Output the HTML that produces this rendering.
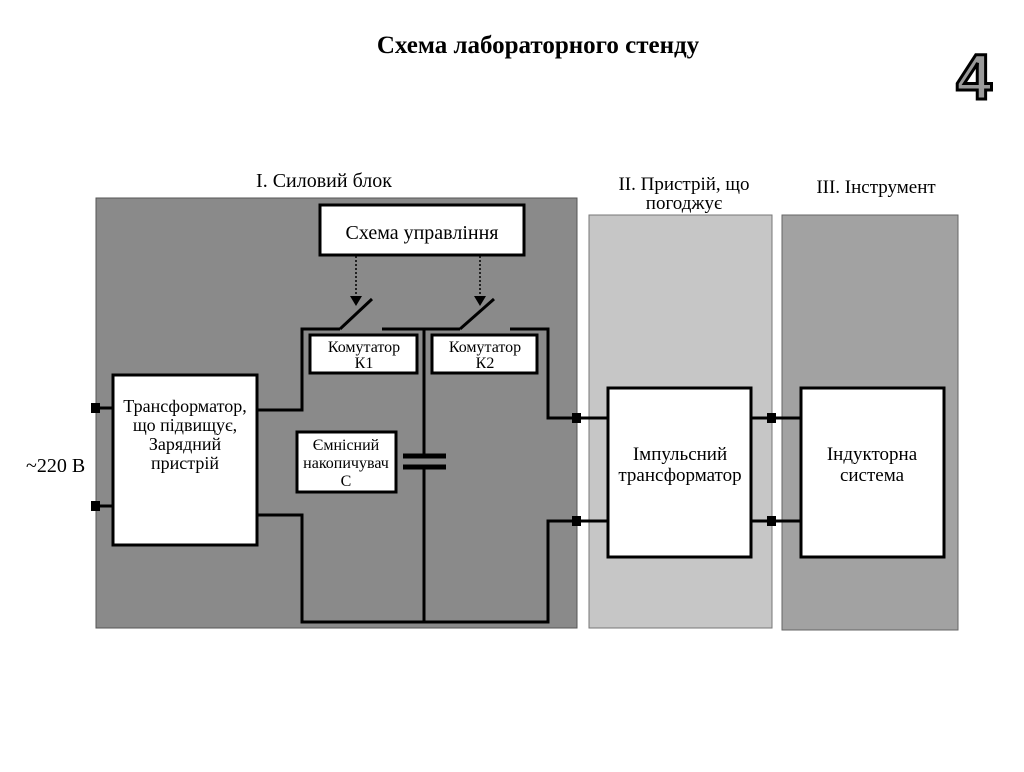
<!DOCTYPE html>
<html><head><meta charset="utf-8"><style>
body{margin:0;background:#fff;}
svg text{font-family:"Liberation Serif",serif;fill:#000;}
</style></head><body>
<svg width="1024" height="767" viewBox="0 0 1024 767" xmlns="http://www.w3.org/2000/svg">
<rect width="1024" height="767" fill="#fff"/>
<text x="538" y="53" font-size="25" font-weight="bold" text-anchor="middle">Схема лабораторного стенду</text>
<text x="974" y="99" font-size="64" font-weight="bold" text-anchor="middle" style="font-family:'Liberation Sans',sans-serif;fill:#9a9a9a;stroke:#000;stroke-width:3">4</text>

<text x="324" y="187" font-size="20" text-anchor="middle">I. Силовий блок</text>
<text x="684" y="190" font-size="19" text-anchor="middle">II. Пристрій, що</text>
<text x="684" y="209" font-size="19" text-anchor="middle">погоджує</text>
<text x="876" y="193" font-size="19" text-anchor="middle">III. Інструмент</text>

<rect x="96" y="198" width="481" height="430" fill="#8a8a8a" stroke="#555" stroke-width="1"/>
<rect x="589" y="215" width="183" height="413" fill="#c6c6c6" stroke="#777" stroke-width="1"/>
<rect x="782" y="215" width="176" height="415" fill="#a2a2a2" stroke="#666" stroke-width="1"/>

<g stroke="#000" stroke-width="3" fill="none">
<polyline points="257,410 302,410 302,329 340,329"/>
<line x1="340" y1="329" x2="372" y2="299"/>
<line x1="382" y1="329" x2="460" y2="329"/>
<line x1="460" y1="329" x2="494" y2="299"/>
<polyline points="510,329 548,329 548,418 577,418"/>
<line x1="424" y1="329" x2="424" y2="456"/>
<line x1="424" y1="467" x2="424" y2="622"/>
<polyline points="257,515 302,515 302,622 548,622 548,521 577,521"/>
<line x1="577" y1="418" x2="608" y2="418"/>
<line x1="577" y1="521" x2="608" y2="521"/>
<line x1="751" y1="418" x2="801" y2="418"/>
<line x1="751" y1="521" x2="801" y2="521"/>
<line x1="92" y1="408" x2="113" y2="408"/>
<line x1="92" y1="506" x2="113" y2="506"/>
</g>
<g stroke="#000" stroke-width="5">
<line x1="403" y1="456" x2="446" y2="456"/>
<line x1="403" y1="467" x2="446" y2="467"/>
</g>
<g fill="#000">
<rect x="91" y="403" width="9" height="10"/>
<rect x="91" y="501" width="9" height="10"/>
<rect x="572" y="413" width="9" height="10"/>
<rect x="572" y="516" width="9" height="10"/>
<rect x="767" y="413" width="9" height="10"/>
<rect x="767" y="516" width="9" height="10"/>
</g>
<g stroke="#000" stroke-width="1.5" stroke-dasharray="2,2">
<line x1="356" y1="256" x2="356" y2="298"/>
<line x1="480" y1="256" x2="480" y2="298"/>
</g>
<polygon points="350,296 362,296 356,306" fill="#000"/>
<polygon points="474,296 486,296 480,306" fill="#000"/>

<g fill="#fff" stroke="#000" stroke-width="3">
<rect x="320" y="205" width="204" height="50"/>
<rect x="310" y="335" width="107" height="38"/>
<rect x="432" y="335" width="105" height="38"/>
<rect x="113" y="375" width="144" height="170"/>
<rect x="297" y="432" width="99" height="60"/>
<rect x="608" y="388" width="143" height="169"/>
<rect x="801" y="388" width="143" height="169"/>
</g>
<text x="422" y="239" font-size="20" text-anchor="middle">Схема управління</text>
<text x="364" y="352" font-size="16" text-anchor="middle">Комутатор</text>
<text x="364" y="368" font-size="16" text-anchor="middle">К1</text>
<text x="485" y="352" font-size="16" text-anchor="middle">Комутатор</text>
<text x="485" y="368" font-size="16" text-anchor="middle">К2</text>
<text x="185" y="412" font-size="18" text-anchor="middle">Трансформатор,</text>
<text x="185" y="431" font-size="18" text-anchor="middle">що підвищує,</text>
<text x="185" y="450" font-size="18" text-anchor="middle">Зарядний</text>
<text x="185" y="469" font-size="18" text-anchor="middle">пристрій</text>
<text x="346" y="450" font-size="16" text-anchor="middle">Ємнісний</text>
<text x="346" y="468" font-size="16" text-anchor="middle">накопичувач</text>
<text x="346" y="486" font-size="16" text-anchor="middle">С</text>
<text x="680" y="460" font-size="19" text-anchor="middle">Імпульсний</text>
<text x="680" y="481" font-size="19" text-anchor="middle">трансформатор</text>
<text x="872" y="460" font-size="19" text-anchor="middle">Індукторна</text>
<text x="872" y="481" font-size="19" text-anchor="middle">система</text>
<text x="26" y="472" font-size="20">~220 В</text>
</svg>
</body></html>
